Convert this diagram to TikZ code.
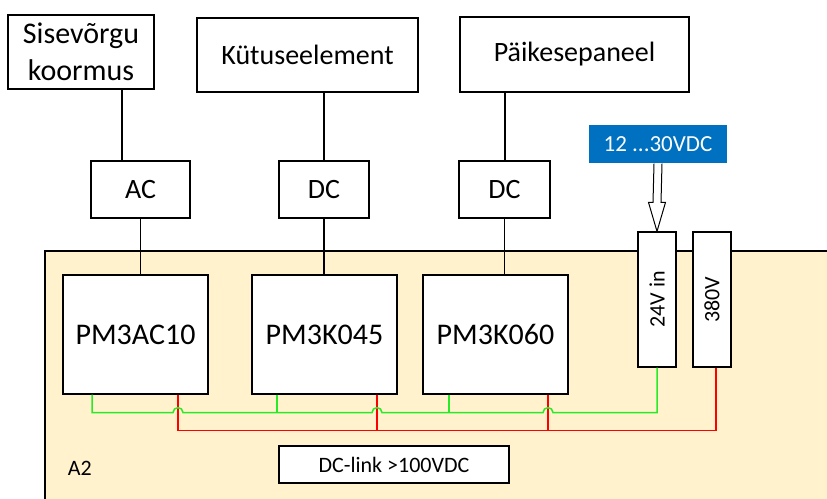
\documentclass[tikz,border=0pt]{standalone}
\usepackage{fontspec}
\setmainfont{Carlito}
\usepackage{tikz}
\usetikzlibrary{positioning,calc}
\definecolor{panelbeige}{HTML}{FFF2CC}
\definecolor{supplyblue}{HTML}{0070C0}
\definecolor{lowgreen}{RGB}{40,235,40}
\definecolor{highred}{RGB}{255,0,0}

\begin{document}
\begin{tikzpicture}[x=1pt, y=1pt, semithick, line width=1.2pt,
        block/.style={rectangle, draw=black, fill=white, inner sep=0pt, align=center,
        font=\fontsize{28}{34}\selectfont},
        module/.style={block, minimum width=145pt, minimum height=119pt,
        font=\fontsize{30}{36}\selectfont},
        conv/.style={block, minimum height=57pt},
        rail/.style={block, minimum width=38pt, minimum height=135pt,
        font=\fontsize{22}{26}\selectfont},
        greenwire/.style={draw=lowgreen, line width=1.5pt},
        redwire/.style={draw=highred, line width=1.5pt}]
        \useasboundingbox (0,0) rectangle (827,498);
        % board
        \draw[fill=panelbeige] (850,-20) -- (45,-20) -- (45,247) -- (850,247);

        \node[block, minimum width=146pt, minimum height=74pt,
              font=\fontsize{30}{37}\selectfont] (sis) at (81,446) {Sisevõrgu\\koormus};
        \node[block, minimum width=221pt, minimum height=74pt] (kyt) at (307.5,443) {Kütuseelement};
        \node[block, minimum width=229pt, minimum height=75pt] (paike) at (574.5,443.5) {Päikesepaneel};

        \node[conv, minimum width=99pt] (ac) at (140.5,308.5) {AC};
        \node[conv, minimum width=90pt] (dca) at (324,308.5) {DC};
        \node[conv, minimum width=91pt] (dcb) at (504.5,308.5) {DC};

        \node[module] (pmac) at (135.5,163.5) {PM3AC10};
        \node[module] (pmka) at (324.5,163.5) {PM3K045};
        \node[module] (pmkb) at (495.5,163.5) {PM3K060};

        \node[rail] (vin) at (657,198.5) {\rotatebox{90}{24V in}};
        \node[rail, right=55pt of vin.center, anchor=center] (vhi) {\rotatebox{90}{380V}};

        \node[rectangle, fill=supplyblue, text=white, minimum width=138pt, minimum height=38pt,
              font=\fontsize{23}{27}\selectfont] (supply) at (658,354) {12 ...30VDC};

        \node[block, minimum width=230pt, minimum height=37pt,
              font=\fontsize{22}{26}\selectfont] (dclink) at (394,33.5) {DC-link >100VDC};
        \node[font=\fontsize{22}{26}\selectfont, anchor=west] (board) at (64,30) {A2};

        \draw ([xshift=41pt]sis.south) -- ([xshift=41pt]sis.south |- ac.north);
        \draw (dca.north |- kyt.south) -- (dca.north);
        \draw ([xshift=-69.5pt]paike.south) -- ([xshift=-69.5pt]paike.south |- dcb.north);
        \draw (ac.south) -- (ac.south |- pmac.north);
        \draw (dca.south) -- (dca.south |- pmka.north);
        \draw (dcb.south) -- (dcb.south |- pmkb.north);

        % hollow arrow into 24V in
        \draw[line width=1pt, fill=white] ($(supply.south)+(-4,0)$) -- ($(vin.north)+(-4,29)$)
            -- ($(vin.north)+(-8.5,29)$) -- (vin.north) -- ($(vin.north)+(8.5,29)$)
            -- ($(vin.north)+(4,29)$) -- ($(supply.south)+(4,0)$);

        \coordinate (ga) at ([xshift=-43.5pt]pmac.south);
        \coordinate (ra) at ([xshift=42.5pt]pmac.south);
        \coordinate (gb) at ([xshift=-47.5pt]pmka.south);
        \coordinate (rb) at ([xshift=52.5pt]pmka.south);
        \coordinate (gc) at ([xshift=-46.5pt]pmkb.south);
        \coordinate (rc) at ([xshift=52.5pt]pmkb.south);

        \draw[redwire] (ra) -- ++(0,-36) coordinate (rl) -| ([xshift=4pt]vhi.south);
        \draw[redwire] (rb) -- (rb |- rl);
        \draw[redwire] (rc) -- (rc |- rl);

        \draw[greenwire] (ga) -- ++(0,-18) coordinate (gl)
            -- ([xshift=-5pt]gl -| ra) arc[start angle=180, end angle=0, radius=5pt]
            -- ([xshift=-5pt]gl -| rb) arc[start angle=180, end angle=0, radius=5pt]
            -- ([xshift=-5pt]gl -| rc) arc[start angle=180, end angle=0, radius=5pt]
            -| (vin.south);
        \draw[greenwire] (gb) -- (gb |- gl);
        \draw[greenwire] (gc) -- (gc |- gl);
\end{tikzpicture}
\end{document}
